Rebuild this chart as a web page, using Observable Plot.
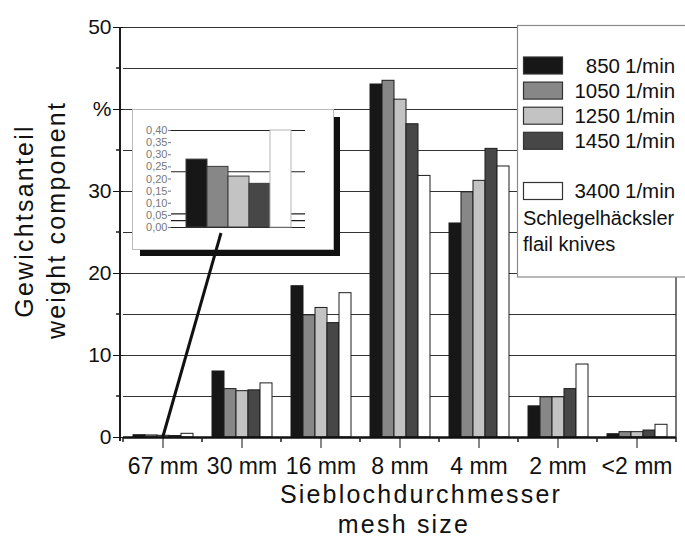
<!DOCTYPE html>
<html><head><meta charset="utf-8">
<script src="https://cdn.jsdelivr.net/npm/d3@7"></script>
<script src="https://cdn.jsdelivr.net/npm/@observablehq/plot@0.6"></script>
<style>
html,body{margin:0;padding:0;background:#fff;}
#wrap{position:relative;width:685px;height:540px;overflow:hidden;font-family:"Liberation Sans",Arial,sans-serif;}
#main{position:absolute;left:0;top:0;}
#inset{position:absolute;left:133px;top:110px;width:200px;height:139px;background:#fff;outline:1px solid #bbb;box-shadow:7px 7px 0 #111;}
#overlay{position:absolute;left:0;top:0;pointer-events:none;}
#main g[aria-label^="fx-axis"] text{font-size:23px;}
</style></head><body>
<div id="wrap"><div id="main"></div><div id="inset"></div><svg id="overlay" width="685" height="540"></svg></div>
<script>
// ---- data ----
const categories = ["67 mm", "30 mm", "16 mm", "8 mm", "4 mm", "2 mm", "<2 mm"];
const series = ["850 1/min", "1050 1/min", "1250 1/min", "1450 1/min", "3400 1/min"];
const v850  = [0.28, 8.05, 18.45, 43.05, 26.1, 3.8, 0.4];
const v1050 = [0.25, 5.9, 14.9, 43.5, 29.9, 4.9, 0.65];
const v1250 = [0.21, 5.65, 15.8, 41.2, 31.3, 4.9, 0.65];
const v1450 = [0.18, 5.75, 13.95, 38.2, 35.2, 5.9, 0.85];
const v3400 = [0.45, 6.6, 17.6, 31.9, 33.05, 8.9, 1.55];
const colors = ["#171717", "#878787", "#c3c3c3", "#474747", "#ffffff"];
const yTicks = [0, 10, 20, 30, 40, 50];
const yMinorTicks = [5, 15, 25, 35, 45];
const gridValues = [5, 10, 15, 20, 25, 30, 35, 40, 45, 50];
const insetTicks = [0, 0.05, 0.10, 0.15, 0.20, 0.25, 0.30, 0.35, 0.40];
const insetGrid = [0, 0.028, 0.056, 0.23, 0.40];
const yTitle = ["Gewichtsanteil", "weight component"];
const xTitle = ["Sieblochdurchmesser", "mesh size"];
const legendNote = ["Schlegelhäcksler", "flail knives"];

const values = [v850, v1050, v1250, v1450, v3400];
const rows = categories.flatMap((c, i) => series.map((s, j) => ({category: c, series: s, value: values[j][i]})));

const FONT = '"Liberation Sans", Arial, sans-serif';
const M = {left: 120, right: 7, top: 27, bottom: 103};

const chart = Plot.plot({
  width: 685, height: 540,
  marginLeft: M.left, marginRight: M.right, marginTop: M.top, marginBottom: M.bottom,
  style: {fontFamily: FONT, fontSize: "21px", color: "#111", background: "transparent", overflow: "visible"},
  fx: {domain: categories, padding: 0, axis: "bottom", label: null, tickSize: 11, tickPadding: 9},
  x: {domain: series, axis: null, paddingInner: 0, paddingOuter: 0.6},
  y: {domain: [0, 50], ticks: yTicks, tickFormat: d => d === 40 ? "%" : String(d), tickSize: 10, tickPadding: 2, label: null},
  color: {domain: series, range: colors},
  marks: [
    Plot.ruleY(gridValues, {stroke: "#333", strokeWidth: 1, shapeRendering: "crispEdges"}),
    Plot.barY(rows, {fx: "category", x: "series", y: "value", fill: "series", stroke: "#1c1c1c", strokeWidth: 1}),
    Plot.ruleY([0], {stroke: "#111", strokeWidth: 2.5})
  ]
});
document.getElementById("main").appendChild(chart);

// scales from the chart
let fxS = chart.scale("fx"), yS = chart.scale("y");
let fxApply = fxS.apply ? (c => fxS.apply(c)) :
  d3.scaleBand().domain(fxS.domain).range(fxS.range).paddingInner(fxS.paddingInner || 0).paddingOuter(fxS.paddingOuter || 0);
let bw = fxS.bandwidth !== undefined ? fxS.bandwidth : fxApply.bandwidth();
let yApply = yS.apply ? (v => yS.apply(v)) : d3.scaleLinear().domain(yS.domain).range(yS.range);

const svg = d3.select(chart);
const g = svg.append("g").attr("stroke", "#1c1c1c").attr("fill", "none");
// y axis line
g.append("line").attr("x1", M.left).attr("x2", M.left).attr("y1", yApply(50)).attr("y2", yApply(0) + 4).attr("stroke-width", 2);
// right frame line
const xEnd = fxApply(categories[categories.length - 1]) + bw;
g.append("line").attr("x1", xEnd).attr("x2", xEnd).attr("y1", yApply(50)).attr("y2", yApply(0)).attr("stroke-width", 1.2);
// minor y ticks
g.selectAll("line.ym").data(yMinorTicks).join("line").attr("class", "ym")
  .attr("x1", M.left - 4).attr("x2", M.left).attr("y1", d => yApply(d)).attr("y2", d => yApply(d)).attr("stroke-width", 1.5);
// minor x ticks at band boundaries
const bounds = categories.map(c => fxApply(c)).concat([xEnd]);
g.selectAll("line.xm").data(bounds).join("line").attr("class", "xm")
  .attr("x1", d => d).attr("x2", d => d).attr("y1", yApply(0)).attr("y2", yApply(0) + 5).attr("stroke-width", 1.5);

// ---- inset ----
const insetRows = series.map((s, j) => ({series: s, value: values[j][0]}));
const inset = Plot.plot({
  width: 200, height: 139, marginLeft: 38, marginRight: 28, marginTop: 20, marginBottom: 22,
  style: {fontFamily: FONT, fontSize: "11px", color: "#777", background: "transparent"},
  x: {domain: series, axis: null, paddingInner: 0, paddingOuter: 0.6},
  y: {domain: [0, 0.4], clamp: true, ticks: insetTicks, tickFormat: d => d.toFixed(2).replace(".", ","), tickSize: 3, tickPadding: 1, label: null},
  color: {domain: series, range: colors},
  marks: [
    Plot.ruleY(insetGrid, {stroke: "#222", strokeWidth: 1.2}),
    Plot.barY(insetRows.slice(0, 4), {x: "series", y: "value", fill: "series", stroke: "#3a3a3a", strokeWidth: 1}),
    Plot.barY(insetRows.slice(4), {x: "series", y: "value", fill: "series", stroke: "#b5b5b5", strokeWidth: 1})
  ]
});
document.getElementById("inset").appendChild(inset);

// ---- overlay: pointer, titles, legend ----
const ov = d3.select("#overlay");
ov.append("line")
  .attr("x1", fxApply(categories[0]) + bw / 2).attr("y1", yApply(0) + 1)
  .attr("x2", 221).attr("y2", 233)
  .attr("stroke", "#111").attr("stroke-width", 3);

const titleStyle = s => s.attr("font-family", FONT).attr("font-size", 25).attr("fill", "#111").attr("letter-spacing", 2.2).attr("text-anchor", "middle");
ov.append("text").call(titleStyle).attr("transform", "translate(33,221) rotate(-90)").text(yTitle[0]);
ov.append("text").call(titleStyle).attr("transform", "translate(65,220) rotate(-90)").text(yTitle[1]);
ov.append("text").call(titleStyle).attr("x", 421).attr("y", 503).text(xTitle[0]);
ov.append("text").call(titleStyle).attr("x", 404).attr("y", 533).text(xTitle[1]);

const lg = ov.append("g").attr("font-family", FONT).attr("fill", "#111");
lg.append("rect").attr("x", 517.5).attr("y", 25.5).attr("width", 175).attr("height", 251.5)
  .attr("fill", "#fff").attr("stroke", "#8a8a8a").attr("stroke-width", 1.2);
const legendSlots = [0, 1, 2, 3, 5];
series.forEach((s, j) => {
  const cy = 65.5 + legendSlots[j] * 25.1;
  lg.append("rect").attr("x", 523.5).attr("y", cy - 8.5).attr("width", 39).attr("height", 17)
    .attr("fill", colors[j]).attr("stroke", "#333").attr("stroke-width", 1.2);
  const [num, unit] = s.split(" ");
  lg.append("text").attr("x", 620).attr("y", cy).attr("dy", "0.36em").attr("text-anchor", "end").attr("font-size", 20.5).text(num);
  lg.append("text").attr("x", 625).attr("y", cy).attr("dy", "0.36em").attr("font-size", 20.5).text(unit);
});
legendNote.forEach((t, k) => {
  lg.append("text").attr("x", 523).attr("y", 225 + k * 26).attr("font-size", 20).text(t);
});
</script>
</body></html>
